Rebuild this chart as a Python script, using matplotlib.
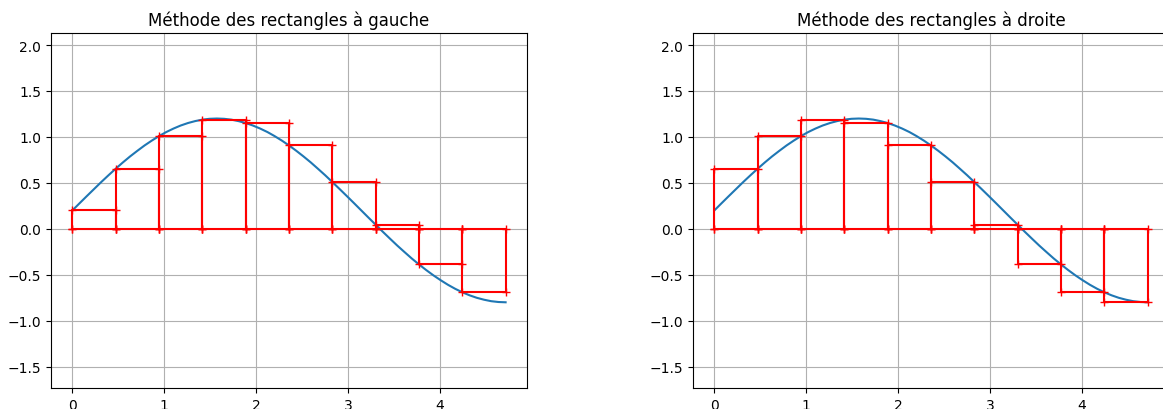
import numpy as np
import matplotlib
matplotlib.use('Agg')
import matplotlib.pyplot as plt

# courbe
x_courbe = [0, 0.079, 0.157, 0.236, 0.314, 0.393, 0.471, 0.550, 0.628, 0.707,
            0.785, 0.864, 0.942, 1.021, 1.100, 1.178, 1.257, 1.335, 1.414, 1.492,
            1.571, 1.649, 1.728, 1.806, 1.885, 1.963, 2.042, 2.121, 2.199, 2.278,
            2.356, 2.435, 2.513, 2.592, 2.670, 2.749, 2.827, 2.906, 2.985, 3.063,
            3.142, 3.220, 3.299, 3.377, 3.456, 3.534, 3.613, 3.691, 3.770, 3.848,
            3.927, 4.006, 4.084, 4.163, 4.241, 4.320, 4.398, 4.477, 4.555, 4.634,
            4.712]
y_courbe = [0.200, 0.279, 0.356, 0.433, 0.509, 0.583, 0.654, 0.723, 0.788, 0.849,
            0.907, 0.960, 1.009, 1.053, 1.091, 1.124, 1.151, 1.172, 1.188, 1.197,
            1.200, 1.197, 1.188, 1.172, 1.151, 1.124, 1.091, 1.053, 1.009, 0.960,
            0.907, 0.849, 0.788, 0.723, 0.654, 0.583, 0.509, 0.433, 0.356, 0.279,
            0.200, 0.122, 0.044, -0.033, -0.109, -0.183, -0.254, -0.323, -0.388, -0.449,
            -0.507, -0.560, -0.609, -0.653, -0.691, -0.724, -0.751, -0.772, -0.788, -0.797,
            -0.800]

# bornes des rectangles
x_noeuds = [0, 0.471, 0.942, 1.414, 1.885, 2.356, 2.827, 3.299, 3.770, 4.241, 4.712]
h_gauche = [0.200, 0.654, 1.009, 1.188, 1.151, 0.907, 0.509, 0.044, -0.388, -0.691]
h_droite = [0.654, 1.009, 1.188, 1.151, 0.907, 0.509, 0.044, -0.388, -0.691, -0.800]

titres = ['Méthode des rectangles à gauche', 'Méthode des rectangles à droite']
hauteurs = [h_gauche, h_droite]

fig = plt.figure(figsize=(11.63, 4.10), dpi=100)
positions = [[0.0436, 0.0512, 0.4098, 0.8659],
             [0.5956, 0.0512, 0.4098, 0.8659]]

for k in range(2):
    ax = fig.add_axes(positions[k])
    ax.plot(x_courbe, y_courbe)
    h = hauteurs[k]
    for i in range(len(h)):
        a = x_noeuds[i]
        b = x_noeuds[i + 1]
        ax.plot([a, a, b, b, a], [0, h[i], h[i], 0, 0], 'r+-')
    ax.set_title(titres[k])
    ax.grid()
    ax.set_xlim(-0.236, 4.948)
    ax.set_ylim(-1.733, 2.131)
    ax.set_xticks([0, 1, 2, 3, 4])
    ax.set_yticks([-1.5, -1.0, -0.5, 0.0, 0.5, 1.0, 1.5, 2.0])

plt.savefig('out.png')
